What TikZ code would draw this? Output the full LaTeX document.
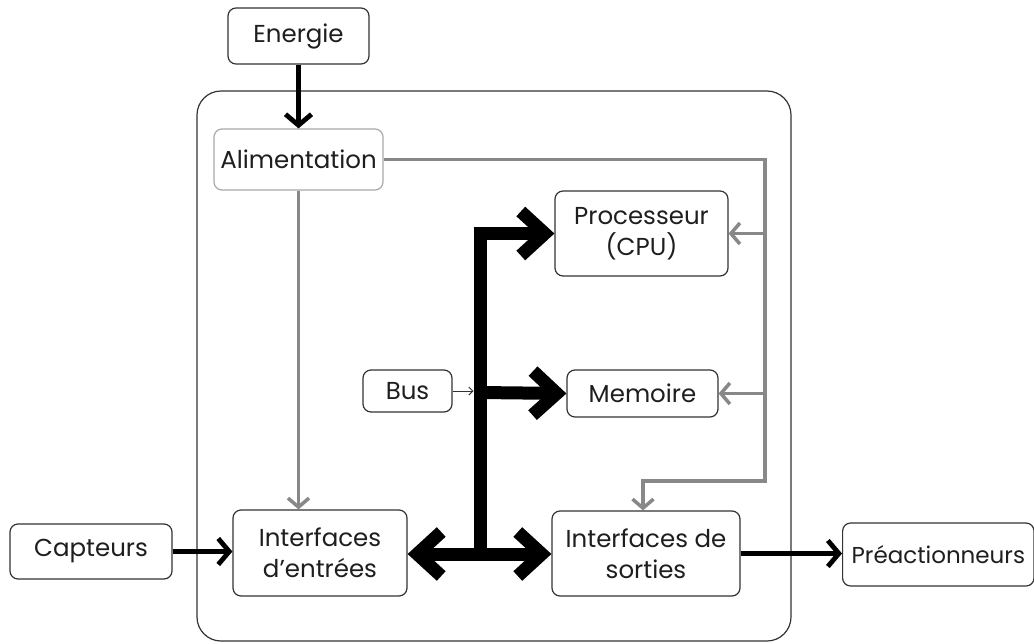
\documentclass[tikz,border=0pt]{standalone}
\usepackage{fontspec}
\setmainfont{Poppins}
\usetikzlibrary{arrows.meta}
\definecolor{txt}{HTML}{1E1E1E}
\definecolor{bord}{HTML}{333333}
\definecolor{gline}{HTML}{888888}
\definecolor{gbord}{HTML}{A8A8A8}
\tikzset{
  box/.style={draw=bord, line width=1.2pt, rounded corners=8pt, text=txt, align=center,
    font=\fontsize{24.5}{31}\selectfont, inner sep=0pt},
  farrow/.style={line width=4.8pt, black, -{Straight Barb[length=11pt, width=26pt, line cap=butt, line join=miter]}},
  garrow/.style={line width=3.5pt, gline, line join=miter, -{Straight Barb[length=9pt, width=21pt, line cap=butt, line join=miter]}},
  busline/.style={line width=13pt, black, line join=miter},
  busarrow/.style={line width=13pt, black, -{Straight Barb[length=24pt, width=44pt, line cap=butt, line join=miter]}},
  busboth/.style={line width=13pt, black, {Straight Barb[length=24pt, width=44pt, line cap=butt, line join=miter]}-{Straight Barb[length=24pt, width=44pt, line cap=butt, line join=miter]}},
  thinarrow/.style={line width=1pt, bord, -{Straight Barb[length=4pt, width=8pt]}}
}
\begin{document}
\begin{tikzpicture}[x=1pt, y=-1pt]
\useasboundingbox (0,0) rectangle (1034,643);
\fill[white] (0,0) rectangle (1034,643);
% container
\draw[bord, line width=1.2pt, rounded corners=24pt] (197,91) rectangle (791,641);
% nodes
\node[box, minimum width=141pt, minimum height=56pt] (energie) at (298.5,36) {Energie};
\node[box, draw=gbord, minimum width=169pt, minimum height=61pt] (alim) at (298.5,159.5) {Alimentation};
\node[box, minimum width=173pt, minimum height=85pt] (cpu) at (641.5,233.5) {Processeur\\(CPU)};
\node[box, minimum width=151pt, minimum height=47pt] (mem) at (642.5,393.5) {Memoire};
\node[box, minimum width=89pt, minimum height=42pt] (bus) at (407.5,391) {Bus};
\node[box, minimum width=174pt, minimum height=86pt] (ie) at (320,553) {Interfaces\\d’entrées};
\node[box, minimum width=188pt, minimum height=85pt] (is) at (646,553.5) {Interfaces de\\sorties};
\node[box, minimum width=162pt, minimum height=55pt] (capt) at (91,551.5) {Capteurs};
\node[box, font=\fontsize{23}{31}\selectfont, minimum height=63pt, anchor=west, inner xsep=9pt] (preac) at (842,554.5) {Préactionneurs};
% coordinates
\coordinate (vr) at (765,481);
\coordinate (bcpu) at (765,233.5);
\coordinate (bmem) at (765,393.5);
\coordinate (bartop) at (480,233.5);
\coordinate (barbot) at (480,554);
\coordinate (barmem) at (480,392.5);
% power
\draw[farrow] (energie) -- (alim);
\draw[garrow] (alim.south) -- (alim.south |- ie.north);
\draw[garrow] (alim.east) -| (vr) -| ([xshift=-3pt]is.north);
\draw[garrow] (bcpu) -- (cpu.east);
\draw[garrow] (bmem) -- (mem.east);
% bus
\draw[busline] (barbot) -- (bartop);
\draw[busarrow] ([xshift=-6.5pt]bartop) -- (cpu.west);
\draw[busarrow] (barmem) -- (mem.west);
\draw[busboth] (ie.east |- barbot) -- (is.west |- barbot);
\draw[thinarrow] (bus.east) -- ([xshift=-6.5pt]bus.east -| barmem);
% io
\draw[farrow] (capt.east) -- (capt.east -| ie.west);
\draw[farrow] (is.east) -- (is.east -| preac.west);
\end{tikzpicture}
\end{document}
